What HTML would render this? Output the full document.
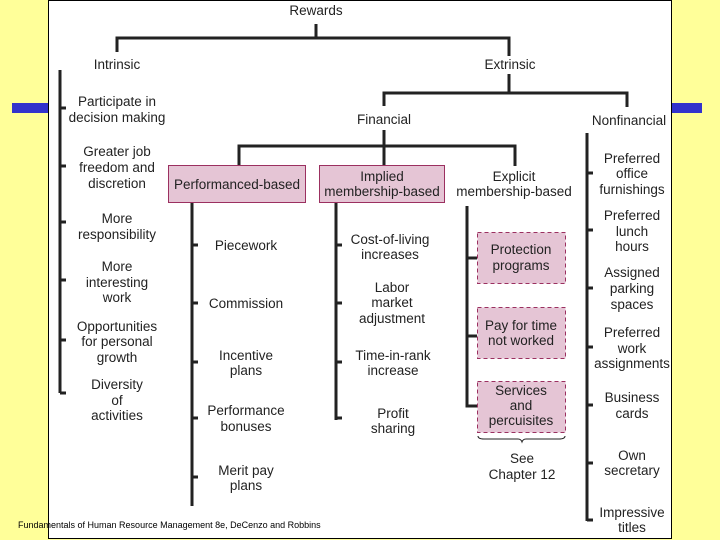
<!DOCTYPE html>
<html><head><meta charset="utf-8"><style>
html,body{margin:0;padding:0;background:#FFFF99;}
svg{display:block;}
text{font-family:"Liberation Sans",sans-serif;font-size:13.5px;fill:#222;text-anchor:middle;}
</style></head><body>
<svg width="720" height="540" viewBox="0 0 720 540" xmlns="http://www.w3.org/2000/svg">
<rect x="0" y="0" width="720" height="540" fill="#FFFF99"/>
<rect x="12" y="103" width="36" height="10" fill="#3333CC"/>
<rect x="672" y="103" width="30" height="10" fill="#3333CC"/>
<rect x="48.5" y="0.5" width="623" height="538" fill="#fff" stroke="#000" stroke-width="1"/>
<g stroke="#222" stroke-width="3" fill="none">
<path d="M316 24V38M117 52V38H509V56"/>
<path d="M509 74V93M384 106V93H627V107"/>
<path d="M384 130V165M239 165V146H515V166"/>
<path d="M60 70V393M60 108H66M60 166H66M60 222H66M60 280H66M60 340H66M60 393H66"/>
<path d="M192 202V506M192 245H198M192 303H198M192 362H198M192 418H198M192 477H198"/>
<path d="M336 202V420M336 245H342M336 303H342M336 362H342M336 418H342"/>
<path d="M467 206V406H477M467 258H477M467 336H477"/>
<path d="M587 133V521M587 173H593M587 230H593M587 288H593M587 347H593M587 405H593M587 463H593M587 520H593"/>
</g>
<rect x="168.5" y="165.5" width="137" height="37" fill="#E5C5D5" stroke="#9B3060"/>
<rect x="319.5" y="165.5" width="125" height="37" fill="#E5C5D5" stroke="#9B3060"/>
<g fill="#E5C5D5" stroke="#9B3060" stroke-dasharray="4,3">
<rect x="477.5" y="232.5" width="88" height="51"/>
<rect x="477.5" y="307.5" width="88" height="51"/>
<rect x="477.5" y="381.5" width="88" height="51"/>
</g>
<path d="M478 436Q478 439 484 439H518Q521 439 522 442Q523 439 526 439H559Q565 439 565 436" stroke="#222" fill="none" stroke-width="1"/>
<text x="316" y="15">Rewards</text>
<text x="117" y="69">Intrinsic</text>
<text x="510" y="69">Extrinsic</text>
<text x="384" y="124">Financial</text>
<text x="629" y="125">Nonfinancial</text>
<text x="237" y="189">Performanced-based</text>
<text x="382" y="181">Implied</text><text x="382" y="196">membership-based</text>
<text x="514" y="181">Explicit</text><text x="514" y="196">membership-based</text>
<text x="117" y="106">Participate in</text><text x="117" y="122">decision making</text>
<text x="117" y="156">Greater job</text><text x="117" y="172">freedom and</text><text x="117" y="188">discretion</text>
<text x="117" y="223">More</text><text x="117" y="239">responsibility</text>
<text x="117" y="271">More</text><text x="117" y="287">interesting</text><text x="117" y="302">work</text>
<text x="117" y="331">Opportunities</text><text x="117" y="346">for personal</text><text x="117" y="362">growth</text>
<text x="117" y="389">Diversity</text><text x="117" y="405">of</text><text x="117" y="420">activities</text>
<text x="246" y="250">Piecework</text>
<text x="246" y="308">Commission</text>
<text x="246" y="360">Incentive</text><text x="246" y="375">plans</text>
<text x="246" y="415">Performance</text><text x="246" y="431">bonuses</text>
<text x="246" y="475">Merit pay</text><text x="246" y="490">plans</text>
<text x="390" y="244">Cost-of-living</text><text x="390" y="259">increases</text>
<text x="392" y="292">Labor</text><text x="392" y="307">market</text><text x="392" y="323">adjustment</text>
<text x="393" y="360">Time-in-rank</text><text x="393" y="375">increase</text>
<text x="393" y="418">Profit</text><text x="393" y="433">sharing</text>
<text x="521" y="254">Protection</text><text x="521" y="270">programs</text>
<text x="521" y="330">Pay for time</text><text x="521" y="345">not worked</text>
<text x="521" y="395">Services</text><text x="521" y="410">and</text><text x="521" y="425">percuisites</text>
<text x="522" y="463">See</text><text x="522" y="479">Chapter 12</text>
<text x="632" y="163">Preferred</text><text x="632" y="178">office</text><text x="632" y="194">furnishings</text>
<text x="632" y="220">Preferred</text><text x="632" y="236">lunch</text><text x="632" y="251">hours</text>
<text x="632" y="277">Assigned</text><text x="632" y="293">parking</text><text x="632" y="309">spaces</text>
<text x="632" y="337">Preferred</text><text x="632" y="353">work</text><text x="632" y="368">assignments</text>
<text x="632" y="402">Business</text><text x="632" y="418">cards</text>
<text x="632" y="460">Own</text><text x="632" y="475">secretary</text>
<text x="632" y="517">Impressive</text><text x="632" y="532">titles</text>
<text x="18" y="528" style="font-size:9px;text-anchor:start;fill:#000">Fundamentals of Human Resource Management 8e, DeCenzo and Robbins</text>
</svg>
</body></html>
